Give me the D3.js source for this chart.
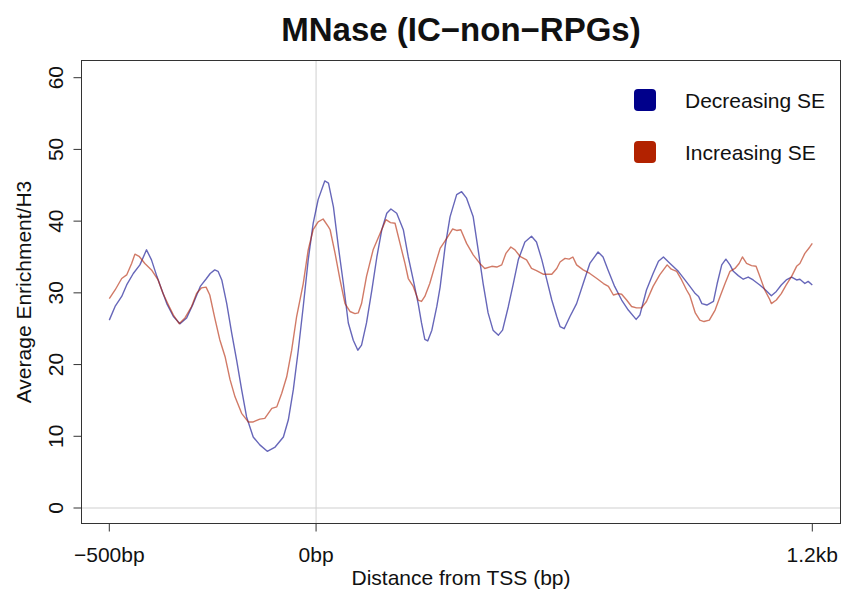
<!DOCTYPE html>
<html>
<head>
<meta charset="utf-8">
<script src="https://cdn.jsdelivr.net/npm/d3@7"></script>
<style>
  body { margin: 0; background: #fff; }
  text { font-family: "Liberation Sans", Arial, Helvetica, sans-serif; fill: #111; }
</style>
</head>
<body>
<div id="chart"></div>
<script>
// Decreasing SE (blue)
const decBp = [-500,-486,-470,-458,-442,-426,-410,-398,-385,-373,-361,-345,-329,-313,-297,-280,-265,-256,-245,-237,-228,-216,-204,-192,-180,-168,-152,-136,-118,-99,-79,-67,-55,-43,-31,-19,-7,5,21,30,42,54,66,78,90,101,110,122,135,147,159,171,181,195,211,223,235,247,255,263,270,280,292,300,312,324,340,352,364,380,392,404,416,428,441,451,465,477,489,505,521,533,546,558,570,582,590,600,614,630,646,662,682,694,706,722,739,755,774,783,799,815,828,840,856,876,892,904,917,925,933,945,961,970,981,991,1001,1009,1021,1033,1045,1057,1073,1085,1101,1113,1125,1137,1150,1162,1170,1182,1190,1200];
const decVal = [26.2,28.1,29.5,31.1,32.7,33.9,36.0,34.6,32.3,30.4,28.5,26.7,25.7,26.5,28.5,30.9,32.0,32.7,33.2,33.0,31.8,28.5,24.4,20.6,16.5,12.7,9.9,8.8,7.9,8.5,9.9,12.3,16.5,22.0,28.1,34.6,39.7,43.0,45.6,45.3,42.0,36.4,31.3,25.8,23.4,22.0,22.7,25.8,30.4,35.0,38.8,41.1,41.7,41.1,38.8,35.0,31.8,28.5,25.8,23.5,23.3,24.8,28.1,30.8,36.4,40.6,43.7,44.1,43.2,40.6,36.0,31.3,27.2,24.8,24.1,24.8,28.1,31.3,34.6,37.1,37.9,37.1,34.6,31.8,29.0,26.7,25.3,25.0,26.7,28.5,31.3,34.1,35.7,35.0,33.2,30.9,29.0,27.6,26.3,26.9,30.4,32.7,34.4,35.0,34.1,33.0,31.8,30.9,29.9,29.5,28.5,28.3,28.8,31.3,33.9,34.7,33.9,33.0,32.4,31.9,32.2,31.8,31.1,30.5,29.6,30.2,31.1,31.8,32.2,31.8,31.9,31.3,31.6,31.1];

// Increasing SE (red)
const incBp = [-500,-486,-470,-458,-446,-438,-428,-414,-398,-382,-370,-357,-345,-331,-317,-301,-289,-277,-266,-257,-245,-233,-220,-208,-196,-180,-164,-152,-136,-124,-107,-95,-83,-71,-59,-47,-31,-19,-7,5,17,30,34,46,58,70,82,94,102,110,122,138,155,169,180,191,203,215,223,235,247,255,263,275,288,300,316,330,340,350,364,380,396,408,425,437,449,459,471,481,493,509,521,533,549,570,582,590,602,612,621,630,646,662,679,695,707,719,731,739,751,763,775,787,799,815,831,849,859,872,884,896,904,917,928,938,951,965,977,989,1001,1013,1023,1031,1041,1053,1064,1073,1085,1096,1101,1113,1125,1137,1150,1162,1170,1182,1194,1200];
const incVal = [29.2,30.4,32.0,32.5,34.1,35.4,35.1,34.1,33.2,31.8,29.9,28.3,26.9,25.7,26.5,28.1,29.9,30.7,30.8,29.7,26.5,23.5,21.1,17.9,15.5,13.2,12.0,12.0,12.4,12.5,13.9,14.1,16.0,18.3,22.0,26.7,31.3,36.0,38.8,39.9,40.3,39.2,38.8,35.5,31.8,28.5,27.4,27.1,27.2,28.5,32.3,36.0,38.3,40.2,39.8,39.7,36.9,34.1,32.0,30.9,29.0,28.8,29.5,31.3,33.9,36.2,37.6,38.9,38.7,38.8,36.9,35.3,34.1,33.4,33.7,33.6,33.9,35.5,36.4,36.0,35.1,34.6,33.4,33.1,32.6,32.6,33.4,34.3,34.8,34.7,35.0,33.9,33.2,32.7,32.0,31.3,30.9,29.7,29.9,29.8,29.0,28.1,27.9,27.9,28.8,30.9,32.5,33.9,33.3,33.0,31.8,30.4,29.6,27.2,26.2,26.0,26.2,27.6,29.5,31.3,33.0,33.4,34.1,35.0,34.1,33.8,33.7,32.3,30.4,29.2,28.5,29.0,29.9,31.1,32.3,33.7,34.1,35.5,36.4,36.9];

const xTicks = [-500, 0, 1200];
const xTickLabels = ["\u2212500bp", "0bp", "1.2kb"];
const yTicks = [0, 10, 20, 30, 40, 50, 60];
const seriesNames = ["Decreasing SE", "Increasing SE"];
const seriesColors = ["#00008B", "#B22200"];

const width = 841, height = 595;
const box = { left: 81.5, right: 840.5, top: 60.5, bottom: 523.5 };

const svg = d3.select("#chart").append("svg")
  .attr("width", width)
  .attr("height", height);

const x = d3.scaleLinear().domain([-500, 1200]).range([109.3, 812.3]);
const y = d3.scaleLinear().domain([0, 60]).range([508, 77.7]);

// reference lines
svg.append("line")
  .attr("x1", box.left).attr("x2", box.right)
  .attr("y1", y(0)).attr("y2", y(0))
  .attr("stroke", "#cfcfcf").attr("stroke-width", 1);
svg.append("line")
  .attr("x1", x(0)).attr("x2", x(0))
  .attr("y1", box.top).attr("y2", box.bottom)
  .attr("stroke", "#cfcfcf").attr("stroke-width", 1);

// series lines
const line = d3.line()
  .x(d => x(d[0]))
  .y(d => y(d[1]));

const series = [
  decBp.map((b, i) => [b, decVal[i]]),
  incBp.map((b, i) => [b, incVal[i]])
];

series.forEach((s, i) => {
  svg.append("path")
    .datum(s)
    .attr("fill", "none")
    .attr("stroke", seriesColors[i])
    .attr("stroke-opacity", 0.6)
    .attr("stroke-width", 1.4)
    .attr("stroke-linejoin", "round")
    .attr("d", line);
});

// frame
svg.append("rect")
  .attr("x", box.left).attr("y", box.top)
  .attr("width", box.right - box.left)
  .attr("height", box.bottom - box.top)
  .attr("fill", "none")
  .attr("stroke", "#333").attr("stroke-width", 1);

// x axis
svg.append("line")
  .attr("x1", x(-500)).attr("x2", x(1200))
  .attr("y1", box.bottom).attr("y2", box.bottom)
  .attr("stroke", "#333");
xTicks.forEach((t, i) => {
  svg.append("line")
    .attr("x1", x(t)).attr("x2", x(t))
    .attr("y1", box.bottom).attr("y2", box.bottom + 8)
    .attr("stroke", "#333");
  svg.append("text")
    .attr("x", x(t)).attr("y", 562)
    .attr("text-anchor", "middle")
    .attr("font-size", 21)
    .text(xTickLabels[i]);
});

// y axis
yTicks.forEach(t => {
  svg.append("line")
    .attr("x1", box.left - 8).attr("x2", box.left)
    .attr("y1", y(t)).attr("y2", y(t))
    .attr("stroke", "#333");
  svg.append("text")
    .attr("transform", `translate(63,${y(t)}) rotate(-90)`)
    .attr("text-anchor", "middle")
    .attr("font-size", 21)
    .text(t);
});

// titles
svg.append("text")
  .attr("x", (box.left + box.right) / 2).attr("y", 41)
  .attr("text-anchor", "middle")
  .attr("font-size", 33)
  .attr("font-weight", "bold")
  .text("MNase (IC\u2212non\u2212RPGs)");

svg.append("text")
  .attr("x", (box.left + box.right) / 2).attr("y", 585)
  .attr("text-anchor", "middle")
  .attr("font-size", 21)
  .text("Distance from TSS (bp)");

svg.append("text")
  .attr("transform", `translate(31,${(box.top + box.bottom) / 2}) rotate(-90)`)
  .attr("text-anchor", "middle")
  .attr("font-size", 21)
  .text("Average Enrichment/H3");

// legend
seriesNames.forEach((name, i) => {
  const cy = 100 + i * 52;
  svg.append("rect")
    .attr("x", 634).attr("y", cy - 11)
    .attr("width", 22).attr("height", 22)
    .attr("rx", 4)
    .attr("fill", seriesColors[i]);
  svg.append("text")
    .attr("x", 685).attr("y", cy + 7.5)
    .attr("font-size", 21)
    .text(name);
});
</script>
</body>
</html>
